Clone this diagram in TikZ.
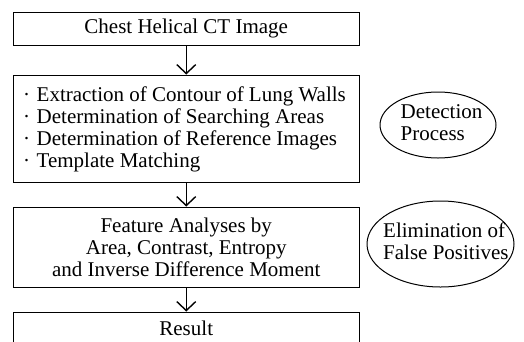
\documentclass[tikz,border=0pt]{standalone}
\usepackage{fontspec}
\setmainfont{Liberation Serif}
\usetikzlibrary{arrows.meta,shapes.geometric}
\tikzset{
  boxnode/.style={draw=black, line width=1pt, rectangle, inner sep=0pt, minimum width=345.5pt, align=center},
  ovalnode/.style={draw=black, line width=1pt, ellipse, inner sep=0pt},
  arr/.style={draw=black, line width=1.4pt, -{Straight Barb[length=9pt,width=19pt,line width=1.4pt]}},
  txt/.style={font=\fontsize{21pt}{22pt}\selectfont},
  labeltxt/.style={txt, inner sep=0pt, align=left}
}
\begin{document}
\begin{tikzpicture}[x=1pt,y=-1pt]
\useasboundingbox (0,0) rectangle (524,341);
\clip (0,0) rectangle (524,341);
\node[boxnode, txt, minimum height=33.5pt] (b1) at (186.25,28.75) {Chest Helical CT Image};
\node[boxnode, minimum height=107pt] (b2) at (186.25,128.5) {};
\node[labeltxt, anchor=west] (b2t) at (23,129)
  {\makebox[13.5pt][l]{·}Extraction of Contour of Lung Walls\\
   \makebox[13.5pt][l]{·}Determination of Searching Areas\\
   \makebox[13.5pt][l]{·}Determination of Reference Images\\
   \makebox[13.5pt][l]{·}Template Matching};
\node[boxnode, txt, minimum height=80pt] (b3) at (186.25,247)
  {Feature Analyses by\\Area, Contrast, Entropy\\and Inverse Difference Moment};
\node[boxnode, minimum height=36pt] (b4) at (186.25,330) {};
\node[txt, inner sep=0pt] (r) at (186.25,328) {Result};
\node[ovalnode, minimum width=116pt, minimum height=66pt] (e1) at (438,125) {};
\node[labeltxt, anchor=west] (e1t) at (400.5,123) {Detection\\Process};
\node[ovalnode, minimum width=147pt, minimum height=86pt] (e2) at (440.5,244) {};
\node[labeltxt, anchor=west] (e2t) at (383,241.5) {Elimination of\\False Positives};
\draw[arr] (b1.south) -- (b2.north);
\draw[arr] (b2.south) -- (b3.north);
\draw[arr] (b3.south) -- (b4.north);
\end{tikzpicture}
\end{document}
